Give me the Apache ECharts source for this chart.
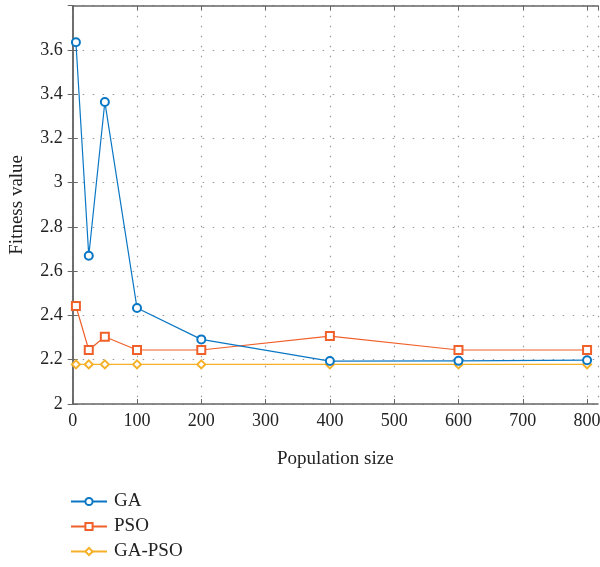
<!DOCTYPE html>
<html>
<head>
<meta charset="utf-8">
<script src="https://cdn.jsdelivr.net/npm/echarts@6/dist/echarts.min.js"></script>
<style>
  html, body { margin: 0; padding: 0; background: #fff; }
  #main { width: 600px; height: 567px; }
</style>
</head>
<body>
<div id="main"></div>
<script>
// population sizes
const popSize = [5, 25, 50, 100, 200, 400, 600, 800];
// fitness per algorithm
const gaValues = [3.635, 2.67, 3.365, 2.434, 2.292, 2.194, 2.195, 2.198];
const psoValues = [2.443, 2.244, 2.304, 2.244, 2.244, 2.307, 2.244, 2.244];
const gaPsoValues = [2.179, 2.179, 2.179, 2.179, 2.179, 2.179, 2.179, 2.179];
const seriesNames = ['GA', 'PSO', 'GA-PSO'];

const font = '"Liberation Serif", "DejaVu Serif", serif';
const colors = ['#0a77c4', '#f0602a', '#f5b027'];
const symbols = ['emptyCircle', 'emptyRect', 'emptyDiamond'];

let pairs = arr => popSize.map((x, i) => [x, arr[i]]);

let chart = echarts.init(document.getElementById('main'), null, { renderer: 'canvas' });

let axisLine = { show: true, lineStyle: { color: '#666', width: 1.5 } };
let axisTick = { show: true, inside: true, length: 5, lineStyle: { color: '#666' } };
let gridLine = { show: true, lineStyle: { color: '#999', type: [1.5, 8.5], width: 1.2 } };

let option = {
  animation: false,
  color: colors,
  textStyle: { fontFamily: font },
  grid: { left: 72.7, top: 5.7, right: 2, bottom: 163, outerBoundsMode: 'none', containLabel: false },
  legend: {
    orient: 'vertical',
    left: 70,
    top: 492,
    height: 76,
    itemWidth: 36,
    itemHeight: 9,
    itemGap: 6,
    padding: 0,
    textStyle: { fontFamily: font, fontSize: 19, color: '#222', padding: [0, 0, 0, 2] },
    data: seriesNames
  },
  xAxis: [{
    type: 'value',
    min: 0,
    max: 817,
    interval: 100,
    name: 'Population size',
    nameLocation: 'middle',
    nameGap: 46,
    nameTextStyle: { fontFamily: font, fontSize: 19, color: '#222' },
    axisLine: axisLine,
    axisTick: axisTick,
    splitLine: gridLine,
    axisLabel: { fontFamily: font, fontSize: 18, color: '#222', margin: 8, showMaxLabel: false }
  }, {
    type: 'value',
    position: 'top',
    min: 0,
    max: 817,
    interval: 100,
    axisLine: axisLine,
    axisTick: axisTick,
    splitLine: { show: false },
    axisLabel: { show: false }
  }],
  yAxis: [{
    type: 'value',
    min: 2,
    max: 3.8,
    interval: 0.2,
    name: 'Fitness value',
    nameLocation: 'middle',
    nameGap: 46,
    nameRotate: 90,
    nameTextStyle: { fontFamily: font, fontSize: 19, color: '#222' },
    axisLine: axisLine,
    axisTick: axisTick,
    splitLine: gridLine,
    axisLabel: {
      fontFamily: font, fontSize: 18, color: '#222', margin: 10, showMaxLabel: false,
      formatter: v => String(Math.round(v * 10) / 10)
    }
  }, {
    type: 'value',
    position: 'right',
    min: 2,
    max: 3.8,
    interval: 0.2,
    axisLine: axisLine,
    axisTick: axisTick,
    splitLine: { show: false },
    axisLabel: { show: false }
  }],
  series: [gaValues, psoValues, gaPsoValues].map((vals, i) => ({
    name: seriesNames[i],
    type: 'line',
    data: pairs(vals),
    symbol: symbols[i],
    symbolSize: 8,
    lineStyle: { width: 1.2, color: colors[i] },
    itemStyle: { color: colors[i], borderWidth: 1 },
    z: 3 - i
  }))
};

chart.setOption(option);
</script>
</body>
</html>
